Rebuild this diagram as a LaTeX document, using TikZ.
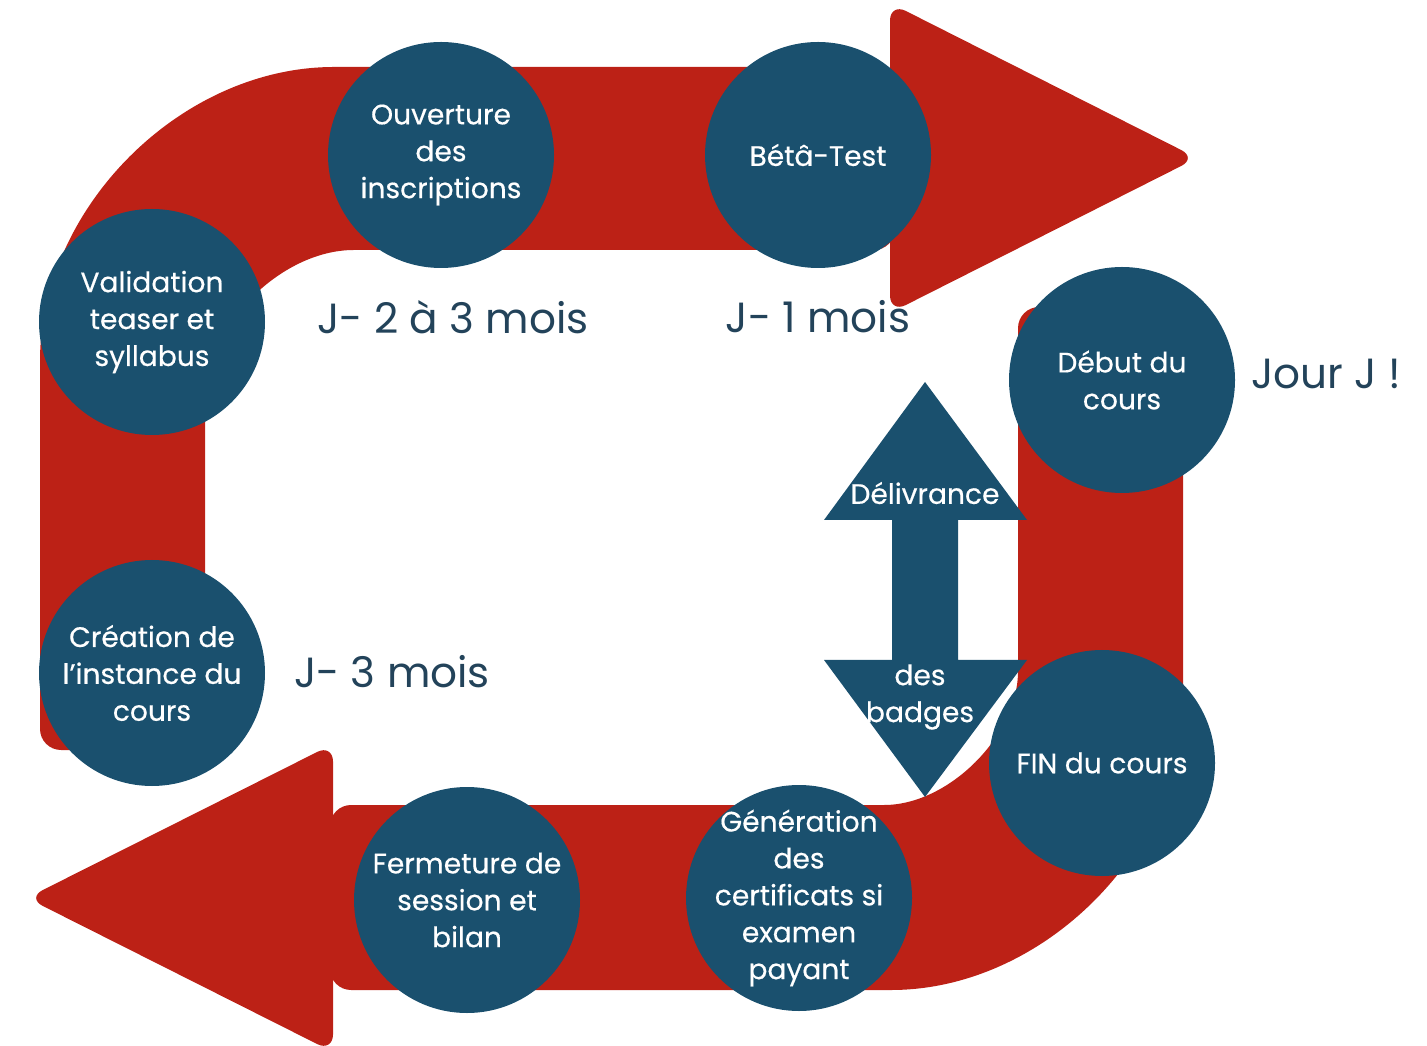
\documentclass[tikz,border=0pt]{standalone}
\usepackage{fontspec}
\setmainfont{Poppins}
\newfontfamily\etapefont{Poppins}[FakeBold=0.4]

\definecolor{rouge}{HTML}{BC2116}
\definecolor{bleu}{HTML}{1A506E}
\definecolor{encre}{HTML}{23435A}

\tikzset{
  etape/.style={circle, fill=bleu, minimum size=2.26cm, inner sep=-4pt, align=center,
    text=white, font=\etapefont\fontsize{8}{10.5}\selectfont},
  delai/.style={text=encre, font=\fontsize{12}{14}\selectfont},
  badge/.style={text=white, align=center, font=\etapefont\fontsize{8}{10.5}\selectfont}
}

\begin{document}
\begin{tikzpicture}
\useasboundingbox (0,0) rectangle (14.27,10.45);

% Draw the left column and the upper band
\fill[rouge, rounded corners=6pt] (2.05,2.95) -- (0.40,2.95) -- (0.40,6.63)
  arc[start angle=180, end angle=90, radius=3.15] -- (8.95,9.78) -- (8.95,7.95) -- (3.75,7.95)
  arc[start angle=90, end angle=180, radius=1.70] -- cycle;
\fill[rouge, rounded corners=5pt] (8.90,10.42) -- (11.97,8.87) -- (8.90,7.32) -- cycle;

% Draw the right column and the lower band
\fill[rouge, rounded corners=6pt] (10.18,7.38) -- (11.83,7.38) -- (11.83,3.68)
  arc[start angle=0, end angle=-90, radius=3.13] -- (3.30,0.55) -- (3.30,2.40) -- (8.63,2.40)
  arc[start angle=-90, end angle=0, radius=1.55] -- cycle;
\fill[rouge, rounded corners=5pt] (3.33,3.01) -- (0.27,1.47) -- (3.33,-0.07) -- cycle;

% Draw the steps
\node[etape] (ouverture) at (4.41,8.90) {Ouverture\\des\\inscriptions};
\node[etape] (beta) at (8.18,8.90) {Bétâ-Test};
\node[etape] (validation) at (1.52,7.23) {Validation\\teaser et\\syllabus};
\node[etape] (creation) at (1.52,3.72) {Création de\\l’instance du\\cours};
\node[etape] (debut) at (11.22,6.65) {Début du\\cours};
\node[etape] (fin) at (11.02,2.82) {FIN du cours};
\node[etape] (fermeture) at (4.67,1.45) {Fermeture de\\session et\\bilan};
\node[etape] (generation) at (7.99,1.47) {Génération\\des\\certificats si\\examen\\payant};

% Draw the double arrow for the badges
\fill[bleu] (9.25,6.63) -- (10.27,5.25) -- (9.58,5.25) -- (9.58,3.85) -- (10.27,3.85)
  -- (9.25,2.48) -- (8.24,3.85) -- (8.92,3.85) -- (8.92,5.25) -- (8.24,5.25) -- cycle;
\node[badge] (delivrance) at (9.25,5.52) {Délivrance};
\node[badge] (badges) at (9.20,3.48) {des\\badges};

% Draw the delays
\node[delai] (j23) at (4.53,7.28) {J- 2 à 3 mois};
\node[delai] (j1) at (8.18,7.28) {J- 1 mois};
\node[delai] (j3) at (3.92,3.73) {J- 3 mois};
\node[delai] (jourj) at (13.26,6.71) {Jour J !};
\end{tikzpicture}
\end{document}
